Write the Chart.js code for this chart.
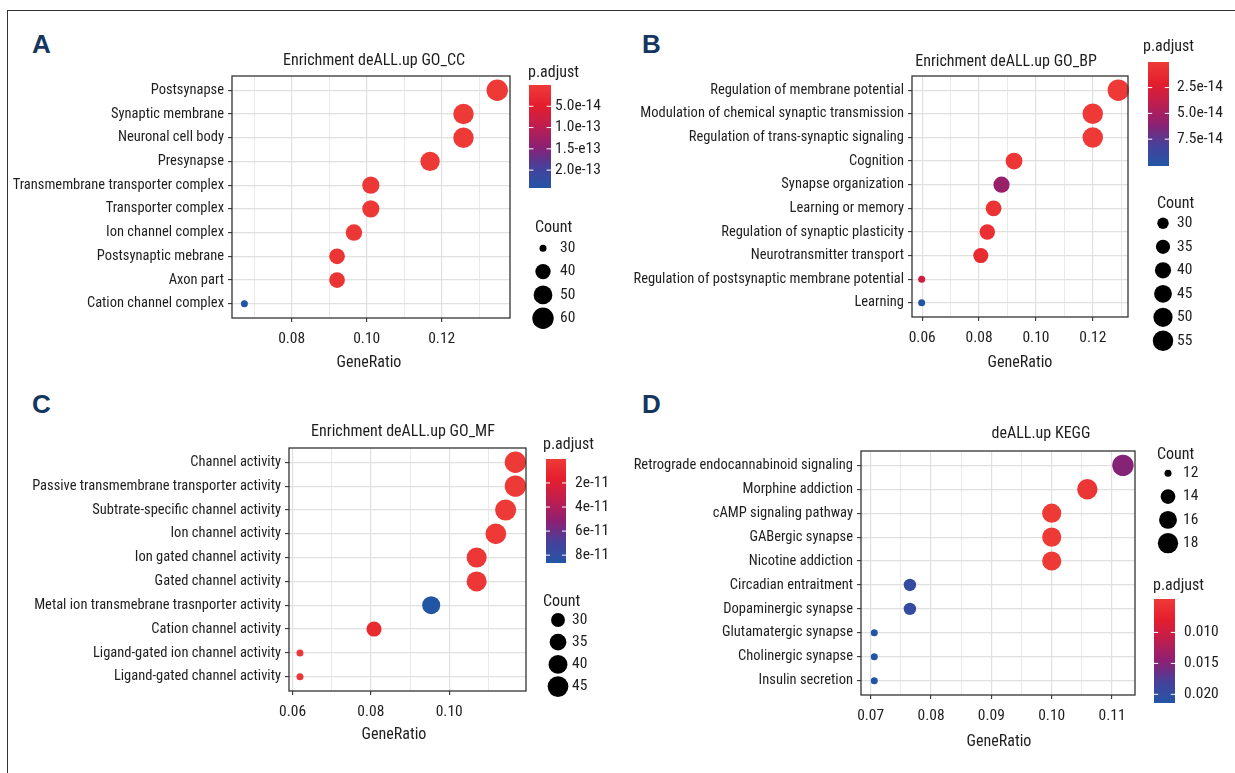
<!DOCTYPE html>
<html><head><meta charset="utf-8">
<script src="https://cdn.jsdelivr.net/npm/chart.js@4.4.1/dist/chart.umd.min.js"></script>
<style>
html,body{margin:0;padding:0;background:#fff;}
#page{position:relative;width:1235px;height:773px;overflow:hidden;background:#fff;}
#frame{position:absolute;left:7px;top:10px;width:1300px;height:800px;border-left:1.5px solid #333;border-top:1.5px solid #333;}
canvas{position:absolute;}
.lbl{position:absolute;font-family:'Liberation Sans',Arial,sans-serif;font-weight:bold;font-size:26px;color:#15365f;line-height:1;}
</style></head>
<body><div id="page"><div id="frame"></div>
<div class="lbl" style="left:32px;top:31px">A</div>
<div class="lbl" style="left:642px;top:31px">B</div>
<div class="lbl" style="left:32px;top:391px">C</div>
<div class="lbl" style="left:642px;top:391px">D</div>
<canvas id="cA" width="600" height="370" style="left:10px;top:13px"></canvas>
<canvas id="cB" width="610" height="370" style="left:625px;top:13px"></canvas>
<canvas id="cC" width="600" height="385" style="left:10px;top:385px"></canvas>
<canvas id="cD" width="610" height="385" style="left:625px;top:385px"></canvas>
</div>
<script>
// ---------- DATA ----------
// Panel A: GO_CC
const ccTerms = ['Postsynapse','Synaptic membrane','Neuronal cell body','Presynapse','Transmembrane transporter complex','Transporter complex','Ion channel complex','Postsynaptic mebrane','Axon part','Cation channel complex'];
const ccRatio = [0.1348,0.1258,0.1258,0.1169,0.1011,0.1011,0.0966,0.0921,0.0921,0.0674];
const ccCount = [60,56,56,52,45,45,43,41,41,30];
const ccPadj  = [1.5e-17,2.2e-16,3.1e-16,2.5e-15,4.8e-15,4.8e-15,6.9e-15,1.1e-14,1.1e-14,2.42e-13];
const ccXTicks = [0.08,0.10,0.12];
const ccXLabels = ['0.08','0.10','0.12'];
const ccXMinor = [0.07,0.09,0.11,0.13];
const ccCbTicks = [5e-14,1e-13,1.5e-13,2e-13];
const ccCbLabels = ['5.0e-14','1.0e-13','1.5-e13','2.0e-13'];
const ccSizeBreaks = [30,40,50,60];

// Panel B: GO_BP
const bpTerms = ['Regulation of membrane potential','Modulation of chemical synaptic transmission','Regulation of trans-synaptic signaling','Cognition','Synapse organization','Learning or memory','Regulation of synaptic plasticity','Neurotransmitter transport','Regulation of postsynaptic membrane potential','Learning'];
const bpRatio = [0.1290,0.1200,0.1200,0.0923,0.0879,0.0851,0.0829,0.0806,0.0598,0.0598];
const bpCount = [59,55,55,42,40,39,38,37,27,27];
const bpPadj  = [2.0e-16,1.1e-15,1.1e-15,3.5e-15,5.6e-14,6.0e-15,7.2e-15,1.2e-14,3.0e-14,1.01e-13];
const bpXTicks = [0.06,0.08,0.10,0.12];
const bpXLabels = ['0.06','0.08','0.10','0.12'];
const bpXMinor = [0.07,0.09,0.11,0.13];
const bpCbTicks = [2.5e-14,5e-14,7.5e-14];
const bpCbLabels = ['2.5e-14','5.0e-14','7.5e-14'];
const bpSizeBreaks = [30,35,40,45,50,55];

// Panel C: GO_MF
const mfTerms = ['Channel activity','Passive transmembrane transporter activity','Subtrate-specific channel activity','Ion channel activity','Ion gated channel activity','Gated channel activity','Metal ion transmebrane trasnporter activity','Cation channel activity','Ligand-gated ion channel activity','Ligand-gated channel activity'];
const mfRatio = [0.1169,0.1169,0.1144,0.1119,0.1070,0.1070,0.0954,0.0808,0.0619,0.0619];
const mfCount = [47,47,46,45,43,43,38,32,25,25];
const mfPadj  = [1.0e-13,1.0e-13,4.0e-13,9.0e-13,2.1e-12,2.1e-12,8.65e-11,1.0e-11,2.5e-12,2.5e-12];
const mfXTicks = [0.06,0.08,0.10];
const mfXLabels = ['0.06','0.08','0.10'];
const mfXMinor = [0.07,0.09,0.11];
const mfCbTicks = [2e-11,4e-11,6e-11,8e-11];
const mfCbLabels = ['2e-11','4e-11','6e-11','8e-11'];
const mfSizeBreaks = [30,35,40,45];

// Panel D: KEGG
const kgTerms = ['Retrograde endocannabinoid signaling','Morphine addiction','cAMP signaling pathway','GABergic synapse','Nicotine addiction','Circadian entraitment','Dopaminergic synapse','Glutamatergic synapse','Cholinergic synapse','Insulin secretion'];
const kgRatio = [0.1118,0.1059,0.1000,0.1000,0.1000,0.0765,0.0765,0.0706,0.0706,0.0706];
const kgCount = [19,18,17,17,17,13,13,12,12,12];
const kgPadj  = [0.0150,0.0052,0.0046,0.0046,0.0046,0.0198,0.0198,0.0214,0.0214,0.0214];
const kgXTicks = [0.07,0.08,0.09,0.10,0.11];
const kgXLabels = ['0.07','0.08','0.09','0.10','0.11'];
const kgXMinor = [0.075,0.085,0.095,0.105];
const kgCbTicks = [0.010,0.015,0.020];
const kgCbLabels = ['0.010','0.015','0.020'];
const kgSizeBreaks = [12,14,16,18];

// ---------- STYLE ----------
const FONT = "'Roboto Condensed','Liberation Sans Narrow','DejaVu Sans Condensed',sans-serif";
const FS_Y = 14.5, FS_X = 15.5, FS_T = 16, FS_L = 15.5;
const TXT = '#1e1e1e';
const STOPS = [[0,[238,58,55]],[0.2,[228,30,45]],[0.4,[190,30,80]],[0.6,[140,32,115]],[0.8,[70,65,155]],[1,[35,85,165]]];
function mix(t){
  t = Math.max(0, Math.min(1, t));
  for (let i = 1; i < STOPS.length; i++) {
    if (t <= STOPS[i][0]) {
      const [t0,c0] = STOPS[i-1], [t1,c1] = STOPS[i];
      const f = (t - t0) / (t1 - t0);
      return 'rgb(' + c0.map((v,k)=>Math.round(v + (c1[k]-v)*f)).join(',') + ')';
    }
  }
  return 'rgb(' + STOPS[STOPS.length-1][1].join(',') + ')';
}

function makePanel(o){
  const el = document.getElementById(o.id);
  const W = el.width, H = el.height;
  const pmin = Math.min(...o.padj), pmax = Math.max(...o.padj);
  const cmin = Math.min(...o.count), cmax = Math.max(...o.count);
  const tOf = p => (p - pmin) / (pmax - pmin);
  const rOf = c => 3.5 + 7.2 * Math.sqrt(Math.max(0, c - cmin) / (cmax - cmin));
  const XH = 40;
  const px = x => x - o.ox, py = y => y - o.oy;
  const allX = o.xMinor.concat(o.xTicks).sort((a,b)=>a-b);
  const isMajor = v => o.xTicks.some(m => Math.abs(m - v) < 1e-9);

  const deco = {
    id: 'deco_' + o.id,
    afterDraw(chart){
      const c = chart.ctx, a = chart.chartArea;
      c.save();
      c.strokeStyle = '#333'; c.lineWidth = 1.3;
      c.strokeRect(a.left, a.top, a.right - a.left, a.bottom - a.top);
      c.fillStyle = TXT;
      c.textBaseline = 'middle';
      c.textAlign = 'center';
      c.font = FS_T + 'px ' + FONT;
      c.fillText(o.title, px(o.titleX), py(o.titleY));
      c.fillText('GeneRatio', px(o.xtX), py(o.xtY));
      // colour bar
      const cb = o.cb;
      c.textAlign = 'left';
      c.fillText('p.adjust', px(cb.titleX), py(cb.titleY));
      const x0 = px(cb.x0), x1 = px(cb.x1), y0 = py(cb.y0), y1 = py(cb.y1);
      const g = c.createLinearGradient(0, y0, 0, y1);
      for (let i = 0; i <= 20; i++) g.addColorStop(i/20, mix(i/20));
      c.fillStyle = g;
      c.fillRect(x0, y0, x1 - x0, y1 - y0);
      c.strokeStyle = '#fff'; c.lineWidth = 1;
      c.font = FS_L + 'px ' + FONT;
      c.fillStyle = TXT;
      o.cbTicks.forEach((v, i) => {
        const yy = y0 + (y1 - y0) * tOf(v);
        const w = (x1 - x0) * 0.2;
        c.beginPath();
        c.moveTo(x0, yy); c.lineTo(x0 + w, yy);
        c.moveTo(x1 - w, yy); c.lineTo(x1, yy);
        c.stroke();
        c.fillText(o.cbLabels[i], px(cb.labX), yy);
      });
      // size legend
      const sl = o.sl;
      c.font = FS_T + 'px ' + FONT;
      c.fillText('Count', px(sl.titleX), py(sl.titleY));
      c.font = FS_L + 'px ' + FONT;
      o.sizeBreaks.forEach((v, i) => {
        const yy = py(sl.y0 + sl.step * i);
        c.fillStyle = '#000';
        c.beginPath(); c.arc(px(sl.cx), yy, rOf(v), 0, Math.PI*2); c.fill();
        c.fillStyle = TXT;
        c.fillText(String(v), px(sl.labX), yy);
      });
      c.restore();
    }
  };

  return new Chart(el, {
    type: 'bubble',
    data: { datasets: [{
      data: o.terms.map((t, i) => ({x: o.ratio[i], y: i, r: rOf(o.count[i])})),
      backgroundColor: o.padj.map(p => mix(tOf(p))),
      borderWidth: 0, hoverRadius: 0, clip: false
    }]},
    options: {
      responsive: false, animation: false, events: [],
      layout: {padding: {left: 0, top: py(o.T), right: W - px(o.R), bottom: H - py(o.B) - XH}},
      plugins: {legend: {display: false}, tooltip: {enabled: false}},
      scales: {
        x: {
          type: 'linear', min: o.xMin, max: o.xMax,
          afterBuildTicks: ax => { ax.ticks = allX.map(v => ({value: v})); },
          afterFit: ax => { ax.height = XH; },
          border: {display: false},
          grid: {
            color: '#e0e0e0',
            lineWidth: ctx => (ctx.tick && isMajor(ctx.tick.value)) ? 1.2 : 0.7,
            tickColor: ctx => (ctx.tick && isMajor(ctx.tick.value)) ? '#333' : 'rgba(0,0,0,0)',
            tickLength: 4, tickWidth: 1.1, drawTicks: true
          },
          ticks: {
            autoSkip: false, maxRotation: 0, padding: 8, color: TXT, font: {family: FONT, size: FS_X},
            callback: v => { const k = o.xTicks.findIndex(m => Math.abs(m - v) < 1e-9); return k >= 0 ? o.xLabels[k] : ''; }
          }
        },
        y: {
          type: 'linear', reverse: true, min: -0.6, max: o.terms.length - 1 + 0.6,
          afterBuildTicks: ax => { ax.ticks = o.terms.map((t, i) => ({value: i})); },
          afterFit: ax => { ax.width = px(o.L); },
          border: {display: false},
          grid: {color: '#e0e0e0', lineWidth: 1.2, tickColor: '#333', tickLength: 4, tickWidth: 1.1},
          ticks: {
            autoSkip: false, padding: 4, color: TXT, font: {family: FONT, size: FS_Y},
            callback: v => o.terms[Math.round(v)]
          }
        }
      }
    },
    plugins: [deco]
  });
}

makePanel({id:'cA', ox:10, oy:13, L:232, R:510, T:76, B:318,
  terms:ccTerms, ratio:ccRatio, count:ccCount, padj:ccPadj,
  xMin:0.0641, xMax:0.1382, xTicks:ccXTicks, xLabels:ccXLabels, xMinor:ccXMinor,
  cbTicks:ccCbTicks, cbLabels:ccCbLabels, sizeBreaks:ccSizeBreaks,
  title:'Enrichment deALL.up GO_CC', titleX:374, titleY:61, xtX:369, xtY:363,
  cb:{titleX:528, titleY:73, x0:529, x1:551, y0:85, y1:188, labX:555},
  sl:{titleX:535, titleY:228, cx:543, y0:248.3, step:23.3, labX:560}});

makePanel({id:'cB', ox:625, oy:13, L:912, R:1128, T:76, B:317,
  terms:bpTerms, ratio:bpRatio, count:bpCount, padj:bpPadj,
  xMin:0.0564, xMax:0.1324, xTicks:bpXTicks, xLabels:bpXLabels, xMinor:bpXMinor,
  cbTicks:bpCbTicks, cbLabels:bpCbLabels, sizeBreaks:bpSizeBreaks,
  title:'Enrichment deALL.up GO_BP', titleX:1006, titleY:62, xtX:1020, xtY:363,
  cb:{titleX:1143, titleY:47, x0:1148, x1:1169, y0:62, y1:166, labX:1177},
  sl:{titleX:1157, titleY:204, cx:1163, y0:223.3, step:23.5, labX:1177}});

makePanel({id:'cC', ox:10, oy:385, L:289, R:526, T:448, B:691,
  terms:mfTerms, ratio:mfRatio, count:mfCount, padj:mfPadj,
  xMin:0.0591, xMax:0.1196, xTicks:mfXTicks, xLabels:mfXLabels, xMinor:mfXMinor,
  cbTicks:mfCbTicks, cbLabels:mfCbLabels, sizeBreaks:mfSizeBreaks,
  title:'Enrichment deALL.up GO_MF', titleX:403, titleY:432, xtX:394, xtY:735,
  cb:{titleX:543, titleY:445, x0:546, x1:566, y0:459, y1:563, labX:575},
  sl:{titleX:543, titleY:602, cx:558, y0:620, step:22.2, labX:572}});

makePanel({id:'cD', ox:625, oy:385, L:861, R:1135, T:451, B:695,
  terms:kgTerms, ratio:kgRatio, count:kgCount, padj:kgPadj,
  xMin:0.0684, xMax:0.1138, xTicks:kgXTicks, xLabels:kgXLabels, xMinor:kgXMinor,
  cbTicks:kgCbTicks, cbLabels:kgCbLabels, sizeBreaks:kgSizeBreaks,
  title:'deALL.up KEGG', titleX:1041, titleY:434, xtX:999, xtY:742,
  cb:{titleX:1153, titleY:586, x0:1154, x1:1175, y0:599, y1:703, labX:1184},
  sl:{titleX:1157, titleY:455, cx:1168, y0:473.3, step:23.3, labX:1183}});
</script>
</body></html>
